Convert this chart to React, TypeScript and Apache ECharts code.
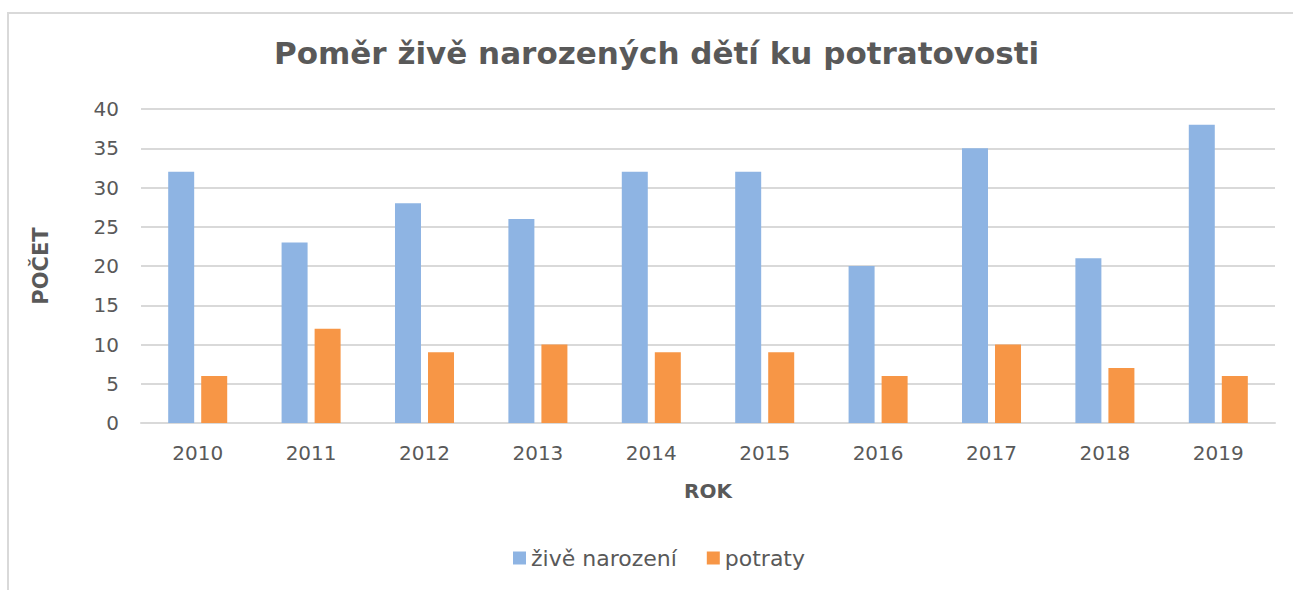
import React, { useEffect, useRef } from "react";
import * as echarts from "echarts";

const categories = ["2010", "2011", "2012", "2013", "2014", "2015", "2016", "2017", "2018", "2019"];
const liveBirths = [32, 23, 28, 26, 32, 32, 20, 35, 21, 38];
const abortions = [6, 12, 9, 10, 9, 9, 6, 10, 7, 6];
const seriesNames = ["živě narození", "potraty"];

const FONT = "DejaVu Sans";
const TEXT = "#595959";

export default function App() {
  const ref = useRef<HTMLDivElement>(null);
  useEffect(() => {
    const chart = echarts.init(ref.current!, null, { renderer: "svg" });
    chart.setOption({
      animation: false,
      backgroundColor: "#ffffff",
      textStyle: { fontFamily: FONT },
      title: {
        text: "Poměr živě narozených dětí ku potratovosti",
        left: 274,
        top: 37,
        padding: 0,
        textStyle: { fontFamily: FONT, fontSize: 31, fontWeight: "bold", color: TEXT },
      },
      graphic: [
        {
          type: "rect",
          shape: { x: 8, y: 13, width: 1300, height: 590 },
          style: { fill: "none", stroke: "#d9d9d9", lineWidth: 2 },
          silent: true,
        },
      ],
      legend: {
        bottom: 16,
        left: 508,
        itemWidth: 13,
        itemHeight: 13,
        itemGap: 30,
        icon: "rect",
        textStyle: { fontFamily: FONT, fontSize: 22, color: TEXT },
        data: seriesNames,
      },
      grid: { left: 141, right: 18, top: 109, bottom: 167, containLabel: false },
      xAxis: {
        type: "category",
        data: categories,
        name: "ROK",
        nameLocation: "middle",
        nameGap: 58,
        nameTextStyle: { fontFamily: FONT, fontSize: 20, fontWeight: "bold", color: TEXT },
        axisLine: { lineStyle: { color: "#d9d9d9", width: 2 } },
        axisTick: { show: false },
        axisLabel: { fontFamily: FONT, fontSize: 20, color: TEXT, margin: 20 },
      },
      yAxis: {
        type: "value",
        min: 0,
        max: 40,
        interval: 5,
        name: "POČET",
        nameLocation: "middle",
        nameGap: 90,
        nameRotate: 90,
        nameTextStyle: { fontFamily: FONT, fontSize: 21, fontWeight: "bold", color: TEXT },
        axisLine: { show: false },
        axisTick: { show: false },
        axisLabel: { fontFamily: FONT, fontSize: 20, color: TEXT, margin: 22 },
        splitLine: { lineStyle: { color: "#d9d9d9", width: 2 } },
      },
      series: [
        {
          name: seriesNames[0],
          type: "bar",
          data: liveBirths,
          barWidth: 26,
          barGap: "27%",
          itemStyle: { color: "#8eb4e3" },
        },
        {
          name: seriesNames[1],
          type: "bar",
          data: abortions,
          barWidth: 26,
          itemStyle: { color: "#f79646" },
        },
      ],
    });
    return () => chart.dispose();
  }, []);
  return <div ref={ref} style={{ width: 1293, height: 590, position: "absolute", left: 0, top: 0 }} />;
}
